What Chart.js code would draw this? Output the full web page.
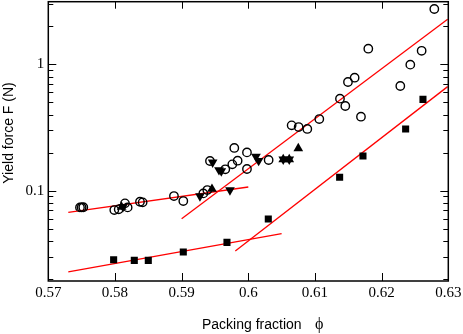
<!DOCTYPE html>
<html>
<head>
<meta charset="utf-8">
<script src="https://cdn.jsdelivr.net/npm/chart.js@4.4.1/dist/chart.umd.min.js"></script>
<style>
  html, body { margin: 0; padding: 0; background: #fff; }
  #wrap { width: 463px; height: 334px; }
</style>
</head>
<body>
<div id="wrap"><canvas id="yieldChart"></canvas></div>
<script>
// open circles
const circPhi = [0.57475, 0.5750, 0.57525, 0.5799, 0.58056, 0.5815, 0.5819, 0.58375, 0.58415, 0.58885, 0.59025,
                 0.59325, 0.59385, 0.59425, 0.59655, 0.5976, 0.5984, 0.5979, 0.5998, 0.5998, 0.60305,
                 0.6065, 0.60755, 0.60885, 0.61065, 0.61375, 0.61455, 0.61495, 0.61595, 0.6169, 0.618,
                 0.6228, 0.6243, 0.626, 0.6279];
const circF = [0.0738, 0.0738, 0.0740, 0.0703, 0.0712, 0.0794, 0.0738, 0.0818, 0.0809, 0.0907, 0.0828,
               0.0952, 0.1012, 0.1718, 0.1476, 0.1616, 0.1727, 0.218, 0.201, 0.1485, 0.175,
               0.329, 0.319, 0.308, 0.369, 0.535, 0.468, 0.725, 0.784, 0.385, 1.33,
               0.674, 0.994, 1.28, 2.74];

// filled triangles (up)
const upPhi = [0.5810, 0.59455, 0.60524, 0.60614, 0.6075];
const upF = [0.0743, 0.1031, 0.177, 0.177, 0.216];

// filled triangles (down)
const downPhi = [0.5812, 0.59275, 0.59465, 0.5956, 0.59595, 0.59725, 0.60115, 0.60155, 0.60524, 0.60614];
const downF = [0.0745, 0.0907, 0.1676, 0.1458, 0.143, 0.101, 0.186, 0.1727, 0.177, 0.177];

// filled squares
const sqPhi = [0.5798, 0.5829, 0.585, 0.59025, 0.5968, 0.603, 0.6137, 0.6172, 0.6236, 0.6262];
const sqF = [0.0284, 0.0281, 0.0281, 0.0327, 0.039, 0.0597, 0.1276, 0.188, 0.308, 0.528];

// fitted lines (end points)
const fitLowUpperPhi = [0.573, 0.600];
const fitLowUpperF = [0.0674, 0.107];
const fitHighUpperPhi = [0.590, 0.6299];
const fitHighUpperF = [0.060, 2.27];
const fitLowLowerPhi = [0.573, 0.605];
const fitLowLowerF = [0.0228, 0.0457];
const fitHighLowerPhi = [0.59805, 0.6299];
const fitHighLowerF = [0.0333, 0.666];

// ticks
const xTicks = [0.57, 0.58, 0.59, 0.60, 0.61, 0.62, 0.63];
const xTickLabels = ["0.57", "0.58", "0.59", "0.6", "0.61", "0.62", "0.63"];
const yMajor = [0.1, 1];
const yTickLabels = ["0.1", "1"];
const yMinor = [0.02, 0.03, 0.04, 0.05, 0.06, 0.07, 0.08, 0.09,
                0.2, 0.3, 0.4, 0.5, 0.6, 0.7, 0.8, 0.9, 2, 3];

const xTitle = "Packing fraction";
const xSymbol = "ϕ";
const yTitle = "Yield force F (N)";

function pts(xs, ys) {
    return xs.map((v, i) => ({ x: v, y: ys[i] }));
}

function fitLine(xs, ys) {
    return {
        type: "line",
        data: pts(xs, ys),
        borderColor: "#ff0000",
        borderWidth: 1.3,
        pointRadius: 0,
        fill: false,
        order: 5
    };
}

// frame, inward ticks and axis titles
const framePlugin = {
    id: "frame",
    afterDraw(chart) {
        const { ctx, chartArea: { left, right, top, bottom }, scales: { x, y } } = chart;
        ctx.save();
        ctx.strokeStyle = "#000";
        ctx.lineWidth = 1;
        xTicks.forEach(v => {
            const px = Math.round(x.getPixelForValue(v)) + 0.5;
            ctx.beginPath();
            ctx.moveTo(px, bottom); ctx.lineTo(px, bottom - 8);
            ctx.moveTo(px, top); ctx.lineTo(px, top + 7);
            ctx.stroke();
        });
        const yTick = (v, len) => {
            const py = Math.round(y.getPixelForValue(v)) + 0.5;
            ctx.beginPath();
            ctx.moveTo(left, py); ctx.lineTo(left + len, py);
            ctx.moveTo(right, py); ctx.lineTo(right - len, py);
            ctx.stroke();
        };
        yMajor.forEach(v => yTick(v, 8));
        yMinor.forEach(v => yTick(v, 5));

        ctx.lineWidth = 1.5;
        ctx.strokeRect(left, top, right - left, bottom - top);

        // axis titles
        ctx.fillStyle = "#000";
        ctx.textBaseline = "alphabetic";
        ctx.textAlign = "left";
        ctx.font = "14px 'Liberation Sans'";
        ctx.fillText(xTitle, 202, 329);
        ctx.font = "16px 'Liberation Serif'";
        ctx.fillText(xSymbol, 315, 329);

        ctx.save();
        ctx.translate(13, 133);
        ctx.rotate(-Math.PI / 2);
        ctx.textAlign = "center";
        ctx.font = "14px 'Liberation Sans'";
        ctx.fillText(yTitle, 0, 0);
        ctx.restore();
        ctx.restore();
    }
};

new Chart(document.getElementById("yieldChart"), {
    type: "scatter",
    data: {
        datasets: [
            fitLine(fitLowUpperPhi, fitLowUpperF),
            fitLine(fitHighUpperPhi, fitHighUpperF),
            fitLine(fitLowLowerPhi, fitLowLowerF),
            fitLine(fitHighLowerPhi, fitHighLowerF),
            {
                data: pts(circPhi, circF),
                pointStyle: "circle",
                pointRadius: 4.2,
                borderWidth: 1.4,
                borderColor: "#000",
                backgroundColor: "rgba(0,0,0,0)",
                order: 1
            },
            {
                data: pts(upPhi, upF),
                pointStyle: "triangle",
                pointRadius: 5.6,
                borderWidth: 0,
                backgroundColor: "#000",
                order: 1
            },
            {
                data: pts(downPhi, downF),
                pointStyle: "triangle",
                rotation: 180,
                pointRadius: 5.6,
                borderWidth: 0,
                backgroundColor: "#000",
                order: 1
            },
            {
                data: pts(sqPhi, sqF),
                pointStyle: "rect",
                pointRadius: 5,
                borderWidth: 0,
                backgroundColor: "#000",
                order: 1
            }
        ]
    },
    options: {
        responsive: true,
        maintainAspectRatio: false,
        animation: false,
        layout: { autoPadding: false, padding: { top: 1.7, right: 14.7, left: 0.3, bottom: 0 } },
        plugins: {
            legend: { display: false },
            tooltip: { enabled: false }
        },
        scales: {
            x: {
                type: "linear",
                min: 0.57,
                max: 0.63,
                afterBuildTicks: s => { s.ticks = xTicks.map(v => ({ value: v })); },
                afterFit: s => { s.height = 53; s.paddingLeft = 0; s.paddingRight = 0; },
                grid: { display: false, drawTicks: false },
                border: { display: false },
                ticks: {
                    color: "#000",
                    padding: 3,
                    maxRotation: 0,
                    font: { family: "'Liberation Serif'", size: 15 },
                    callback: (v, i) => xTickLabels[i]
                }
            },
            y: {
                type: "logarithmic",
                min: 0.0193,
                max: 3.13,
                afterBuildTicks: s => { s.ticks = yMajor.map(v => ({ value: v })); },
                afterFit: s => { s.width = 48; s.paddingTop = 0; s.paddingBottom = 0; },
                grid: { display: false, drawTicks: false },
                border: { display: false },
                ticks: {
                    color: "#000",
                    padding: 4,
                    font: { family: "'Liberation Serif'", size: 15 },
                    callback: (v, i) => yTickLabels[i]
                }
            }
        }
    },
    plugins: [framePlugin]
});
</script>
</body>
</html>
